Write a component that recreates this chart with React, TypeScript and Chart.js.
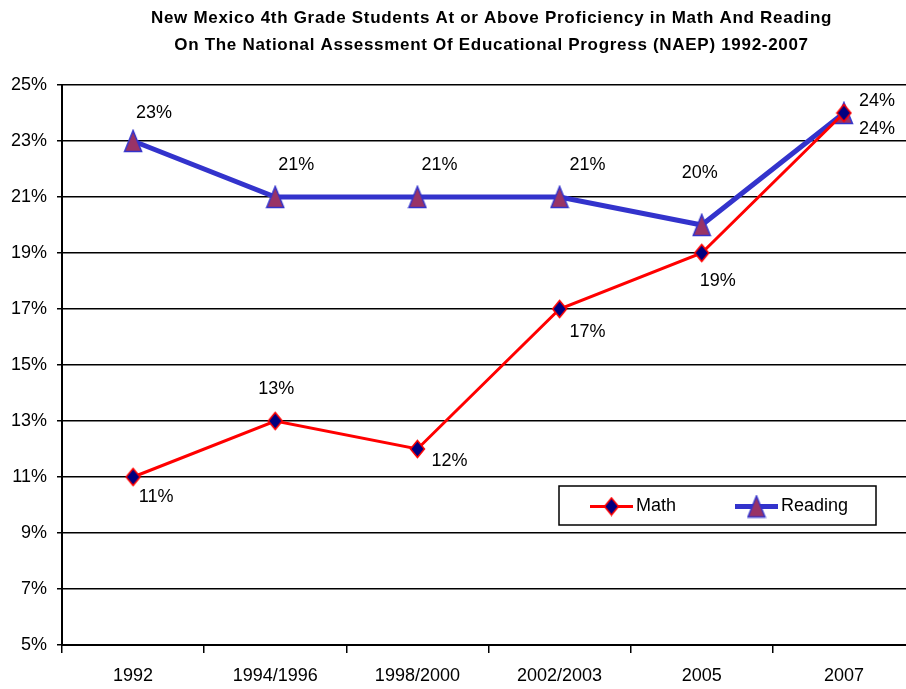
import React, { useEffect, useRef } from "react";
import { Chart, registerables } from "chart.js";

Chart.register(...registerables);

const categories = ["1992", "1994/1996", "1998/2000", "2002/2003", "2005", "2007"];
const mathValues = [11, 13, 12, 17, 19, 24];
const readingValues = [23, 21, 21, 21, 20, 24];
const yTicks = [5, 7, 9, 11, 13, 15, 17, 19, 21, 23, 25];
const titleLines = [
  "New Mexico 4th Grade Students At or Above Proficiency in Math And Reading",
  "On The National Assessment Of Educational Progress (NAEP) 1992-2007",
];

// label offsets (style only)
const mathLabelOffsets = [[23, 20], [1, -32], [32, 12], [28, 23], [16, 28], [33, 16]];
const readingLabelOffsets = [[21, -28], [21, -32], [22, -32], [28, -32], [-2, -52], [33, -12]];

const FONT = "'Liberation Sans', Arial, sans-serif";
const TEXT_SIZE = 18;

function makeDiamond(): HTMLCanvasElement {
  const c = document.createElement("canvas");
  const w = 17, h = 20;
  c.width = w; c.height = h;
  const ctx = c.getContext("2d")!;
  ctx.beginPath();
  ctx.moveTo(w / 2, 1.5);
  ctx.lineTo(w - 1.5, h / 2);
  ctx.lineTo(w / 2, h - 1.5);
  ctx.lineTo(1.5, h / 2);
  ctx.closePath();
  ctx.fillStyle = "#000080";
  ctx.fill();
  ctx.lineWidth = 1.5;
  ctx.strokeStyle = "#FF0000";
  ctx.stroke();
  return c;
}

function makeTriangle(): HTMLCanvasElement {
  const c = document.createElement("canvas");
  const w = 20, h = 24;
  c.width = w; c.height = h;
  const ctx = c.getContext("2d")!;
  ctx.beginPath();
  ctx.moveTo(w / 2, 1.5);
  ctx.lineTo(w - 1.5, h - 1.5);
  ctx.lineTo(1.5, h - 1.5);
  ctx.closePath();
  ctx.fillStyle = "#993366";
  ctx.fill();
  ctx.lineWidth = 1.5;
  ctx.strokeStyle = "#3333CC";
  ctx.stroke();
  return c;
}

export default function App() {
  const ref = useRef<HTMLCanvasElement | null>(null);

  useEffect(() => {
    if (!ref.current) return;
    const diamond = makeDiamond();
    const triangle = makeTriangle();
    const offsets = [mathLabelOffsets, readingLabelOffsets];

    const titlePlugin = {
      id: "spacedTitle",
      afterDraw(chart: any) {
        const ctx = chart.ctx;
        const a = chart.chartArea;
        const cx = (a.left + a.right) / 2 + 3;
        ctx.save();
        ctx.font = `bold 17px ${FONT}`;
        (ctx as any).letterSpacing = "0.7px";
        ctx.fillStyle = "#000";
        ctx.textAlign = "center";
        ctx.textBaseline = "middle";
        titleLines.forEach((line, i) => {
          ctx.fillText(line, cx, 18 + i * 27);
        });
        ctx.restore();
      },
    };

    const labelPlugin = {
      id: "pointLabels",
      afterDatasetsDraw(chart: any) {
        const ctx = chart.ctx;
        ctx.save();
        ctx.font = `${TEXT_SIZE}px ${FONT}`;
        ctx.fillStyle = "#000";
        ctx.textAlign = "center";
        ctx.textBaseline = "middle";
        chart.data.datasets.forEach((ds: any, di: number) => {
          const meta = chart.getDatasetMeta(di);
          meta.data.forEach((pt: any, i: number) => {
            const [dx, dy] = offsets[di][i];
            ctx.fillText(`${ds.data[i]}%`, pt.x + dx, pt.y + dy);
          });
        });
        ctx.restore();
      },
    };

    const legendPlugin = {
      id: "boxLegend",
      afterDraw(chart: any) {
        const ctx = chart.ctx;
        const a = chart.chartArea;
        const bx = a.right - 356, by = a.bottom - 159, bw = 317, bh = 39;
        ctx.save();
        ctx.fillStyle = "#fff";
        ctx.fillRect(bx, by, bw, bh);
        ctx.lineWidth = 1.5;
        ctx.strokeStyle = "#000";
        ctx.strokeRect(bx, by, bw, bh);
        const cy = by + bh / 2 + 1;
        const items = [
          { x: bx + 31, color: "#FF0000", width: 3, img: diamond },
          { x: bx + 176, color: "#3333CC", width: 5, img: triangle },
        ];
        items.forEach((it, i) => {
          ctx.beginPath();
          ctx.moveTo(it.x, cy);
          ctx.lineTo(it.x + 43, cy);
          ctx.lineWidth = it.width;
          ctx.strokeStyle = it.color;
          ctx.stroke();
          ctx.drawImage(it.img, it.x + 21.5 - it.img.width / 2, cy - it.img.height / 2);
          ctx.font = `${TEXT_SIZE}px ${FONT}`;
          ctx.fillStyle = "#000";
          ctx.textAlign = "left";
          ctx.textBaseline = "middle";
          ctx.fillText(chart.data.datasets[i].label, it.x + 46, cy);
        });
        ctx.restore();
      },
    };

    const chart = new Chart(ref.current, {
      type: "line",
      data: {
        labels: categories,
        datasets: [
          {
            label: "Math",
            data: mathValues,
            borderColor: "#FF0000",
            borderWidth: 3,
            pointStyle: diamond as any,
            pointRadius: 8,
            fill: false,
            tension: 0,
          },
          {
            label: "Reading",
            data: readingValues,
            borderColor: "#3333CC",
            borderWidth: 5,
            pointStyle: triangle as any,
            pointRadius: 10,
            fill: false,
            tension: 0,
          },
        ],
      },
      options: {
        responsive: false,
        animation: false,
        layout: { padding: { left: 0, right: 14, top: 85, bottom: 0 } },
        plugins: {
          legend: { display: false },
          tooltip: { enabled: false },
          title: { display: false },
        },
        scales: {
          x: {
            offset: true,
            grid: {
              offset: true,
              drawOnChartArea: false,
              drawTicks: true,
              tickLength: 8,
              color: "#000",
              lineWidth: 1.5,
            },
            border: { color: "#000", width: 2 },
            ticks: {
              color: "#000",
              font: { family: FONT, size: TEXT_SIZE },
              padding: 12,
              maxRotation: 0,
              autoSkip: false,
            },
            afterFit(scale: any) {
              scale.height = 44;
            },
          },
          y: {
            min: 5,
            max: 25,
            afterBuildTicks(scale: any) {
              scale.ticks = yTicks.map((v) => ({ value: v }));
            },
            grid: { color: "#000", lineWidth: 1.5, tickLength: 5 },
            border: { color: "#000", width: 2 },
            ticks: {
              color: "#000",
              font: { family: FONT, size: TEXT_SIZE },
              padding: 10,
              callback: (v: any) => `${v}%`,
            },
            afterFit(scale: any) {
              scale.width = 62;
            },
          },
        },
      },
      plugins: [labelPlugin, legendPlugin, titlePlugin],
    });
    return () => chart.destroy();
  }, []);

  return (
    <div
      style={{
        position: "fixed",
        left: 0,
        top: 0,
        width: 906,
        height: 689,
        overflow: "hidden",
        background: "#fff",
      }}
    >
      <canvas ref={ref} width={930} height={689} style={{ display: "block" }} />
    </div>
  );
}
